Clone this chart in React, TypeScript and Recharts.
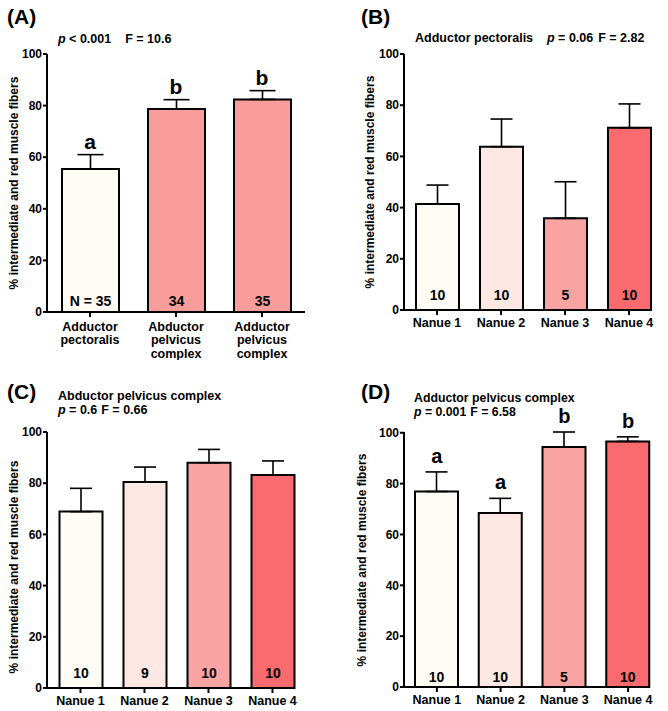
import React from "react";
import {
  ComposedChart,
  Bar,
  Line,
  Cell,
  XAxis,
  YAxis,
  ErrorBar,
  LabelList,
} from "recharts";

// ---- data ----
const aCategories = ["Adductor\npectoralis", "Abductor\npelvicus\ncomplex", "Adductor\npelvicus\ncomplex"];
const aMeans = [55.4, 78.7, 82.4];
const aErrors = [5.6, 3.6, 3.4];
const aCounts = ["N = 35", "34", "35"];
const aLetters = ["a", "b", "b"];

const nanueCategories = ["Nanue 1", "Nanue 2", "Nanue 3", "Nanue 4"];

const bMeans = [41.4, 63.8, 35.8, 71.2];
const bErrors = [7.4, 10.8, 14.3, 9.3];
const bCounts = ["10", "10", "5", "10"];

const cMeans = [68.9, 80.5, 88.0, 83.2];
const cErrors = [9.1, 5.8, 5.2, 5.5];
const cCounts = ["10", "9", "10", "10"];

const dMeans = [76.9, 68.4, 94.4, 96.6];
const dErrors = [7.7, 5.8, 5.9, 1.8];
const dCounts = ["10", "10", "5", "10"];
const dLetters = ["a", "a", "b", "b"];

const yTicks = [0, 20, 40, 60, 80, 100];

const aColors = ["#FFFCF6", "#F99C9C", "#F99C9C"];
const nanueColors = ["#FFFCF6", "#FDE8E3", "#F9A3A2", "#F96B6E"];

const FONT = "'Liberation Sans', Arial, Helvetica, sans-serif";

function buildRows(cats: string[], means: number[], errs: number[], counts: string[], letters?: string[]) {
  return cats.map((name, i) => ({
    name,
    mean: means[i],
    err: [0, errs[i]],
    top: means[i] + errs[i],
    n: counts[i],
    letter: letters ? letters[i] : "",
  }));
}

// multi-line category tick for panel A
const MultiLineTick = (props: any) => {
  const { x, y, payload } = props;
  const lines = String(payload.value).split("\n");
  return (
    <text x={x} y={y + 10.5} textAnchor="middle" fill="#000" fontSize={12.5} fontWeight="bold">
      {lines.map((l, i) => (
        <tspan key={i} x={x} dy={i === 0 ? 0 : 13.7}>
          {l}
        </tspan>
      ))}
    </text>
  );
};

interface PanelProps {
  rows: any[];
  colors: string[];
  left: number;
  top: number;
  width: number;
  height: number;
  margin: { top: number; right: number; bottom: number; left: number };
  padLeft: number;
  padRight: number;
  barSize: number;
  capWidth: number;
  letterOffset: number;
  letterSize: number;
  nOffset: number;
  xHeight: number;
  multiTick?: boolean;
}

const Panel: React.FC<PanelProps> = ({
  rows,
  colors,
  left,
  top,
  width,
  height,
  margin,
  padLeft,
  padRight,
  barSize,
  capWidth,
  letterOffset,
  letterSize,
  nOffset,
  xHeight,
  multiTick,
}) => {
  return (
    <div style={{ position: "absolute", left, top }}>
      <ComposedChart width={width} height={height} data={rows} margin={margin}>
        <XAxis
          dataKey="name"
          height={xHeight}
          padding={{ left: padLeft, right: padRight }}
          axisLine={{ stroke: "#000", strokeWidth: 2 }}
          tickLine={{ stroke: "#000", strokeWidth: 2 }}
          tickSize={5}
          tickMargin={3}
          interval={0}
          tick={multiTick ? <MultiLineTick /> : { fill: "#000", fontSize: 12.5, fontWeight: "bold" }}
        />
        <YAxis
          width={40}
          domain={[0, 100]}
          ticks={yTicks}
          axisLine={{ stroke: "#000", strokeWidth: 2 }}
          tickLine={{ stroke: "#000", strokeWidth: 2 }}
          tickSize={4}
          tickMargin={1}
          tick={{ fill: "#000", fontSize: 12, fontWeight: "bold" }}
        />
        <Bar dataKey="mean" barSize={barSize} stroke="#000" strokeWidth={2} isAnimationActive={false}>
          {rows.map((r, i) => (
            <Cell key={`c-${i}`} fill={colors[i % colors.length]} />
          ))}
          <ErrorBar dataKey="err" width={capWidth} stroke="#000" strokeWidth={1.6} isAnimationActive={false} />
          <LabelList dataKey="n" position="insideBottom" offset={nOffset} fill="#000" fontSize={14} fontWeight="bold" />
        </Bar>
        <Line dataKey="top" stroke="none" dot={false} activeDot={false} legendType="none" isAnimationActive={false}>
          <LabelList
            dataKey="letter"
            position="top"
            offset={letterOffset}
            fill="#000"
            fontSize={letterSize}
            fontWeight="bold"
          />
        </Line>
      </ComposedChart>
    </div>
  );
};

const yLabel = "% intermediate and red muscle fibers";

export default function App() {
  const rowsA = buildRows(aCategories, aMeans, aErrors, aCounts, aLetters);
  const rowsB = buildRows(nanueCategories, bMeans, bErrors, bCounts);
  const rowsC = buildRows(nanueCategories, cMeans, cErrors, cCounts);
  const rowsD = buildRows(nanueCategories, dMeans, dErrors, dCounts, dLetters);

  return (
    <div
      style={{
        position: "absolute",
        left: 0,
        top: 0,
        width: 668,
        height: 711,
        background: "#fff",
        fontFamily: FONT,
      }}
    >
      <Panel
        rows={rowsA}
        colors={aColors}
        left={0}
        top={0}
        width={334}
        height={360}
        margin={{ top: 54, right: 29, bottom: 8, left: 7 }}
        padLeft={0}
        padRight={0}
        barSize={57}
        capWidth={13}
        letterOffset={6}
        letterSize={21}
        nOffset={6}
        xHeight={40}
        multiTick
      />
      <Panel
        rows={rowsB}
        colors={nanueColors}
        left={334}
        top={0}
        width={334}
        height={360}
        margin={{ top: 54, right: 17, bottom: 10, left: 30 }}
        padLeft={1}
        padRight={-10}
        barSize={43}
        capWidth={11}
        letterOffset={11}
        letterSize={21}
        nOffset={10.5}
        xHeight={40}
      />
      <Panel
        rows={rowsC}
        colors={nanueColors}
        left={0}
        top={360}
        width={334}
        height={351}
        margin={{ top: 72, right: 40, bottom: 3, left: 7 }}
        padLeft={1.5}
        padRight={-10.5}
        barSize={43}
        capWidth={11}
        letterOffset={11}
        letterSize={21}
        nOffset={10.5}
        xHeight={20}
      />
      <Panel
        rows={rowsD}
        colors={nanueColors}
        left={334}
        top={360}
        width={334}
        height={351}
        margin={{ top: 72, right: 18, bottom: 4, left: 30 }}
        padLeft={1}
        padRight={-10}
        barSize={43}
        capWidth={11}
        letterOffset={9}
        letterSize={20}
        nOffset={5.5}
        xHeight={20}
      />

      {/* titles, panel letters and axis titles */}
      <svg
        width={668}
        height={711}
        style={{ position: "absolute", left: 0, top: 0, pointerEvents: "none" }}
        fontFamily={FONT}
        fontWeight="bold"
        fill="#000"
      >
        <text x={7} y={24} fontSize={21}>(A)</text>
        <text x={361} y={24} fontSize={21}>(B)</text>
        <text x={7} y={399} fontSize={21}>(C)</text>
        <text x={361} y={399} fontSize={21}>(D)</text>

        <text x={58} y={43} fontSize={12.5}>
          <tspan fontStyle="italic">p</tspan> &lt; 0.001
          <tspan dx={14}>F = 10.6</tspan>
        </text>

        <text x={415} y={42} fontSize={12.5}>Adductor pectoralis</text>
        <text x={547} y={42} fontSize={12.5}>
          <tspan fontStyle="italic">p</tspan> = 0.06
          <tspan dx={5}>F = 2.82</tspan>
        </text>

        <text x={58} y={400} fontSize={12.5}>Abductor pelvicus complex</text>
        <text x={58} y={414} fontSize={12.5}>
          <tspan fontStyle="italic">p</tspan> = 0.6
          <tspan dx={4}>F = 0.66</tspan>
        </text>

        <text x={414} y={402} fontSize={12.3}>Adductor pelvicus complex</text>
        <text x={414} y={416} fontSize={12.3}>
          <tspan fontStyle="italic">p</tspan> = 0.001
          <tspan dx={4}>F = 6.58</tspan>
        </text>

        <text transform="translate(18,183) rotate(-90)" textAnchor="middle" fontSize={12}>{yLabel}</text>
        <text transform="translate(374,182) rotate(-90)" textAnchor="middle" fontSize={12}>{yLabel}</text>
        <text transform="translate(18,567) rotate(-90)" textAnchor="middle" fontSize={12}>{yLabel}</text>
        <text transform="translate(366,560) rotate(-90)" textAnchor="middle" fontSize={12}>{yLabel}</text>
      </svg>
    </div>
  );
}
